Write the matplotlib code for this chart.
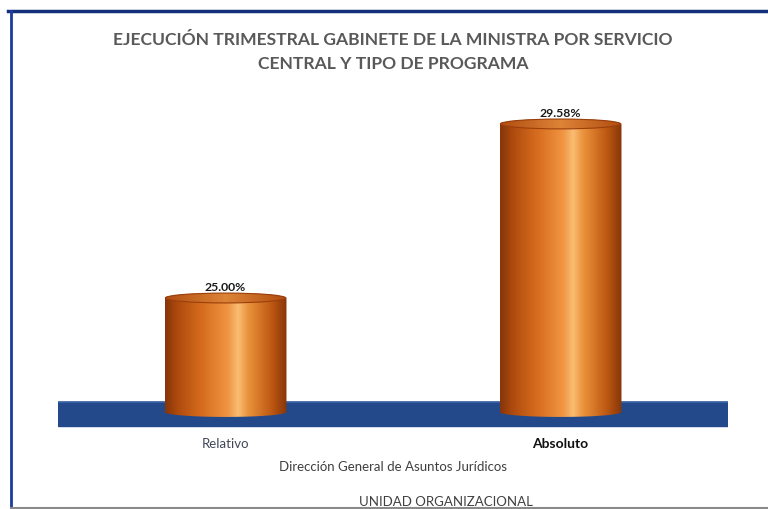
import numpy as np
import matplotlib
matplotlib.use('Agg')
from matplotlib import pyplot as plt
from matplotlib.colors import LinearSegmentedColormap
from matplotlib.patches import Ellipse, Polygon
from matplotlib.lines import Line2D

# Data
categories = ['Relativo', 'Absoluto']
values = [25.00, 29.58]
value_labels = ['25.00%', '29.58%']
title = 'EJECUCIÓN TRIMESTRAL GABINETE DE LA MINISTRA POR SERVICIO\nCENTRAL Y TIPO DE PROGRAMA'
xlabel = 'Dirección General de Asuntos Jurídicos'
footer = 'UNIDAD ORGANIZACIONAL'

plt.rcParams['font.family'] = ['Lato', 'DejaVu Sans']

W, H = 768, 510
fig = plt.figure(figsize=(W/100, H/100), dpi=100)

# axes placed in pixel coords
ax_l, ax_r, ax_top, ax_bot = 58, 728, 90, 432
ax = fig.add_axes([ax_l/W, 1-ax_bot/H, (ax_r-ax_l)/W, (ax_bot-ax_top)/H])
y_min, y_max = 21.5, 30.5
base = 22.0
bar_w = 0.364
cap_h = 0.26

copper = LinearSegmentedColormap.from_list('copper_cyl', [
    (0.00, '#86350a'), (0.10, '#ad4a0e'), (0.30, '#d66c1d'),
    (0.52, '#f09644'), (0.60, '#f9be74'), (0.68, '#eb933c'),
    (0.88, '#bc5711'), (1.00, '#86360a')])
cap_cmap = LinearSegmentedColormap.from_list('cap', [
    (0.0, '#b04c10'), (0.5, '#dd8437'), (1.0, '#b04c10')])
grad = np.linspace(0, 1, 256).reshape(1, -1)

# floor band
ax.axhspan(21.62, 22.27, color='#24498a', zorder=1)
ax.axhline(22.27, color='#3b64a8', lw=1.2, zorder=1)

for i, v in enumerate(values):
    x0, x1 = i - bar_w/2, i + bar_w/2
    t = np.linspace(0, np.pi, 60)
    # body outline: lower half of base ellipse + upper half of top ellipse
    low = [(i - bar_w/2*np.cos(a), base - cap_h/2*np.sin(a)) for a in t]
    up = [(i + bar_w/2*np.cos(a), v + cap_h/2*np.sin(a)) for a in t]
    poly = Polygon(low + up, closed=True, facecolor='none', edgecolor='none')
    ax.add_patch(poly)
    im = ax.imshow(grad, cmap=copper, extent=[x0, x1, base - cap_h, v + cap_h],
                   aspect='auto', zorder=2, interpolation='bicubic')
    im.set_clip_path(poly)
    # top cap
    cap = Ellipse((i, v), bar_w*0.985, cap_h, facecolor='none', edgecolor='none')
    ax.add_patch(cap)
    imc = ax.imshow(grad, cmap=cap_cmap, extent=[x0, x1, v - cap_h/2, v + cap_h/2],
                    aspect='auto', zorder=3, interpolation='bicubic')
    imc.set_clip_path(cap)
    ax.add_patch(Ellipse((i, v), bar_w*0.985, cap_h, facecolor='none',
                         edgecolor='#9a3f0c', lw=0.8, zorder=4))
    ax.annotate(value_labels[i], (i, v + cap_h/2), xytext=(0, 0.5),
                textcoords='offset points', ha='center', va='bottom',
                fontsize=8.8, fontweight='bold', color='#1a1a1a')

ax.set_xlim(-0.5, 1.5)
ax.set_ylim(y_min, y_max)
ax.set_xticks(range(len(categories)))
ax.set_xticklabels(categories, fontsize=9.5, color='#404858')
ax.get_xticklabels()[1].set_fontweight('bold')
ax.get_xticklabels()[1].set_color('#111111')
ax.get_xticklabels()[1].set_fontsize(10)
ax.tick_params(axis='x', length=0, pad=4)
ax.set_yticks([])
for s in ax.spines.values():
    s.set_visible(False)
ax.set_xlabel(xlabel, fontsize=9.5, color='#404040', labelpad=8)

fig.text(393/W, 1-52/H, title, ha='center', va='center', fontsize=12.6,
         fontweight='bold', color='#595959', linespacing=1.65)
fig.text(446/W, 1-502/H, footer, ha='center', va='center', fontsize=9.5,
         color='#404040')

# frame lines
fig.add_artist(Line2D([8/W, 1], [1-12/H, 1-12/H], color='#14307a', lw=2.5))
fig.add_artist(Line2D([11/W, 11/W], [1-12/H, 1-509/H], color='#1a3c9c', lw=2))
fig.add_artist(Line2D([11/W, 1], [1-508.5/H, 1-508.5/H], color='#8a8a8a', lw=1.5))

fig.savefig('out.png', dpi=100)
